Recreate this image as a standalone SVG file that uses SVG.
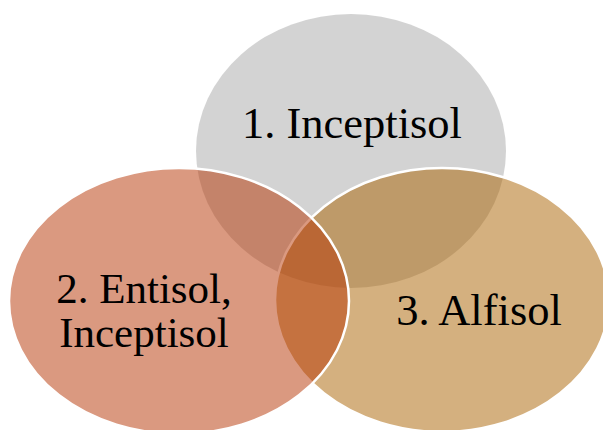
<svg xmlns="http://www.w3.org/2000/svg" width="603" height="430" viewBox="0 0 603 430">
<style>
.c{fill-opacity:0.5;stroke:#FFFFFF;stroke-width:2.5}
.t{font-family:"Liberation Serif","Times New Roman",serif;font-size:43px;fill:#000000;text-anchor:middle}
.b{font-size:44.5px}
</style>
<rect width="603" height="430" fill="#FFFFFF"/>
<g id="node1">
<ellipse cx="351" cy="151" rx="155" ry="137" fill="#A7A7A7" fill-opacity="0.5"/>
</g>
<g id="node3">
<ellipse class="c" cx="442" cy="300" rx="167" ry="132" fill="#A96200"/>
</g>
<g id="node2">
<ellipse class="c" cx="179" cy="301" rx="170" ry="133" fill="#B53301"/>
</g>
<g id="labels">
<text class="t b" x="352" y="138">1. Inceptisol</text>
<text class="t" x="144" y="303">2. Entisol,</text>
<text class="t" x="144" y="347">Inceptisol</text>
<text class="t b" x="479" y="325">3. Alfisol</text>
</g>
<g id="connectors"></g>
</svg>
